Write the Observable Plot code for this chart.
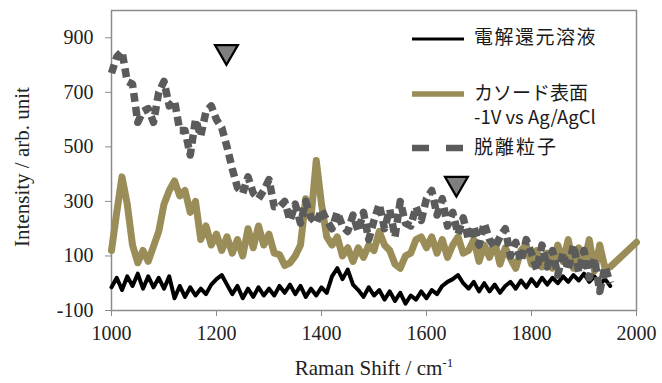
<!DOCTYPE html>
<html><head><meta charset="utf-8">
<script src="https://cdn.jsdelivr.net/npm/d3@7"></script>
<script src="https://cdn.jsdelivr.net/npm/@observablehq/plot@0.6"></script>
<style>
body{margin:0;background:#fff;}
#wrap{position:relative;width:662px;height:383px;overflow:hidden;}
.leg{position:absolute;font-family:"Noto Sans CJK JP","Noto Sans";color:#1a1a1a;white-space:nowrap;line-height:1;}
.sw{position:absolute;}
</style></head><body><div id="wrap"></div>
<script>
// Raman shift (cm-1)
const shift = [1000,1010,1020,1030,1040,1050,1060,1070,1080,1090,1100,1110,1120,1130,1140,1150,1160,1170,1180,1190,
1200,1210,1220,1230,1240,1250,1260,1270,1280,1290,1300,1310,1320,1330,1340,1350,1360,1370,1380,1390,
1400,1410,1420,1430,1440,1450,1460,1470,1480,1490,1500,1510,1520,1530,1540,1550,1560,1570,1580,1590,
1600,1610,1620,1630,1640,1650,1660,1670,1680,1690,1700,1710,1720,1730,1740,1750,1760,1770,1780,1790,
1800,1810,1820,1830,1840,1850,1860,1870,1880,1890,1900,1910,1920,1930,1940,1950];
// 電解還元溶液
const solution = [-15,20,-25,25,-10,35,-20,25,-15,20,-20,25,
-55,-10,-50,-15,-45,-20,-40,-5,
15,30,-5,
-40,-10,-55,-20,-50,-15,-45,-20,-45,-10,-35,-5,-40,-10,-50,-20,-45,-15,-35,
25,55,15,50,-5,
-25,-50,-15,-45,-25,-60,-30,-65,-35,-75,-45,-60,-30,-55,-25,-40,-10,
5,15,30,0,
-20,5,-30,0,-30,-5,-35,-10,
5,-20,10,-15,15,-10,20,-5,20,0,25,5,30,10,35,5,25,-5,15,-10];
// カソード表面 -1V vs Ag/AgCl
const cathodeShift = [...shift, 2000];
const cathode = [120,260,390,290,140,75,120,80,135,190,
290,340,375,320,340,260,300,160,210,140,
180,120,170,110,160,100,200,130,210,140,
180,110,105,65,75,100,140,310,240,450,
290,170,140,170,100,130,80,130,95,140,
120,190,140,120,70,55,100,110,160,170,
130,170,110,160,95,140,170,110,120,160,
80,140,95,150,70,130,90,55,120,140,
70,120,60,110,55,140,80,160,55,130,
70,160,45,140,55,60,
150];
// 脱離粒子
const particles = [770,830,850,740,730,590,630,640,590,700,
740,650,670,560,560,470,600,540,630,650,
600,570,500,420,350,330,390,330,310,340,
380,280,280,300,230,290,220,300,240,220,
270,230,200,260,210,190,250,190,260,160,
230,290,200,270,170,300,220,210,280,230,
310,340,250,310,210,260,180,240,160,210,
140,220,160,130,170,200,100,150,80,160,
110,50,140,60,120,30,110,50,140,40,
120,20,90,-30,60,0];
// markers (▼)
const markerX = [1219,1657];
const markerY = [849,366];
const xTicks = [1000,1200,1400,1600,1800,2000];
const yTicks = [-100,100,300,500,700,900];

const sol = shift.map((x,i)=>({x,y:solution[i]}));
const cat = cathodeShift.map((x,i)=>({x,y:cathode[i]}));
const par = shift.map((x,i)=>({x,y:particles[i]}));
const marks = markerX.map((x,i)=>({x,y:markerY[i]}));

const OLIVE="#9a8d57", GRAY="#5b5b5b", AX="#8c8c8c";

const chart = Plot.plot({
  width:662, height:383,
  marginLeft:111, marginRight:26, marginTop:10, marginBottom:73,
  style:{fontFamily:"'Liberation Serif','Times New Roman',serif", fontSize:"20px", color:"#222", background:"#fff"},
  x:{domain:[1000,2000], ticks:xTicks, tickSize:6, tickPadding:9, label:null, tickFormat:d=>String(d)},
  y:{domain:[-100,1000], ticks:yTicks, tickSize:6, tickPadding:12, label:null, tickFormat:d=>String(d)},
  marks:[
    Plot.frame({stroke:AX, strokeWidth:1.5}),
    Plot.line(sol,{x:"x",y:"y",stroke:"#000",strokeWidth:4,strokeLinejoin:"round"}),
    Plot.line(cat,{x:"x",y:"y",stroke:OLIVE,strokeWidth:7,strokeLinejoin:"round"}),
    Plot.line(par,{x:"x",y:"y",stroke:GRAY,strokeWidth:7.5,strokeDasharray:"9,5",strokeLinecap:"butt"}),
    Plot.dot(marks,{x:"x",y:"y",symbol:"triangle",rotate:180,r:8.5,fill:"#7f7f7f",stroke:"#000",strokeWidth:2.2})
  ]
});
const wrap = document.getElementById("wrap");
wrap.appendChild(chart);
const svg = d3.select(chart);
svg.selectAll("[aria-label='x-axis tick'] path, [aria-label='y-axis tick'] path").attr("stroke",AX);
// axis titles
svg.append("text").attr("transform","translate(24,167) rotate(-90)")
  .attr("text-anchor","middle").attr("dominant-baseline","middle")
  .attr("font-family","'Liberation Serif',serif").attr("font-size",21).attr("fill","#222")
  .text("Intensity / arb. unit");
const xt = svg.append("text").attr("x",374).attr("y",375).attr("text-anchor","middle")
  .attr("font-family","'Liberation Serif',serif").attr("font-size",21).attr("fill","#222");
xt.append("tspan").text("Raman Shift / cm");
xt.append("tspan").attr("font-size",13).attr("dy",-8).text("-1");

// legend
function sample(top, color, width, dash){
  const s = document.createElementNS("http://www.w3.org/2000/svg","svg");
  s.setAttribute("class","sw"); s.setAttribute("width",56); s.setAttribute("height",10);
  s.style.left="410px"; s.style.top=(top-5)+"px";
  const l = document.createElementNS("http://www.w3.org/2000/svg","line");
  l.setAttribute("x1",2); l.setAttribute("x2",54); l.setAttribute("y1",5); l.setAttribute("y2",5);
  l.setAttribute("stroke",color); l.setAttribute("stroke-width",width);
  if(dash) l.setAttribute("stroke-dasharray",dash);
  s.appendChild(l); wrap.appendChild(s);
}
function label(text, left, top, size, ls){
  const d=document.createElement("div"); d.className="leg"; d.textContent=text;
  d.style.left=left+"px"; d.style.top=top+"px"; d.style.fontSize=size+"px";
  if(ls) d.style.letterSpacing=ls+"px";
  wrap.appendChild(d);
}
sample(39,"#000",3);
sample(94,OLIVE,5.5);
sample(148,GRAY,6.5,"17,17");
label("電解還元溶液",474,26,19,1.5);
label("カソード表面",474,82,19,0);
label("-1V vs Ag/AgCl",474,107,18.5,0);
label("脱離粒子",474,136,19,2);
</script></body></html>
